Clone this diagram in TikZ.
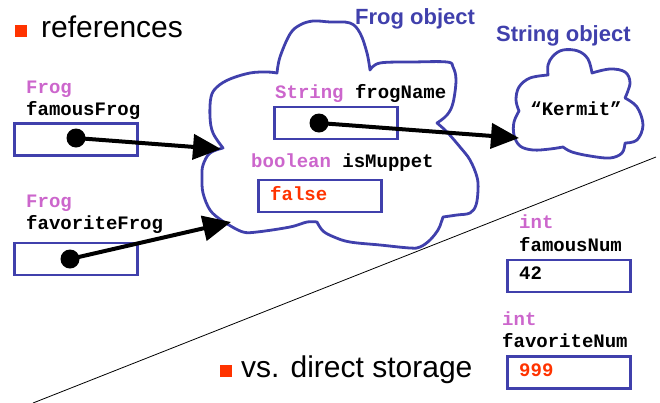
\documentclass[tikz,border=0pt]{standalone}
\usepackage{fontspec}
\setmainfont{Liberation Sans}
\newfontfamily\codefont{Liberation Mono}
\usetikzlibrary{arrows.meta}
\definecolor{objblue}{RGB}{64,64,172}
\definecolor{typemag}{RGB}{204,102,204}
\definecolor{valred}{RGB}{255,51,0}
\begin{document}
\begin{tikzpicture}[x=1pt,y=-1pt,
  varbox/.style={draw=objblue, line width=2.8pt, minimum width=123pt, minimum height=32pt, inner sep=0pt},
  cloudline/.style={draw=objblue, line width=2.8pt, line join=round},
  code/.style={inner sep=0pt, anchor=base west, font=\codefont\bfseries\fontsize{19}{22}\selectfont},
  typelbl/.style={code, text=typemag},
  vallbl/.style={code, text=valred},
  ptrdot/.style={circle, fill=black, inner sep=0pt, minimum size=19pt},
  ptr/.style={line width=4pt, -{Triangle[length=28pt,width=25pt]}},
  bulletsq/.style={fill=valred, inner sep=0pt, minimum size=12pt},
  bigtext/.style={inner sep=0pt, anchor=base west, font=\fontsize{30}{34}\selectfont},
  objtitle/.style={inner sep=0pt, anchor=base west, text=objblue, font=\bfseries\fontsize{22}{26}\selectfont}
]
\useasboundingbox (0,0) rectangle (660,402);
\begin{scope}
\clip (0,0) rectangle (660,402);
\draw[line width=0.8pt] (33,403) coordinate (diagA) -- (656,157) coordinate (diagB);
\end{scope}

% headings
\node[bulletsq] (bul1) at (21,31) {};
\node[bigtext] (refs) at (41,37) {references};
\node[bulletsq] (bul2) at (226,371) {};
\node[bigtext] (vs) at (241,377) {vs. direct storage};
\node[objtitle] (frogobj) at (355,24) {Frog object};
\node[objtitle] (strobj) at (496,41) {String object};

% Frog object cloud
\draw[cloudline]
  plot[smooth, tension=0.6] coordinates {(223,148) (213,133) (210,117) (211,97) (217,87) (230,79) (250,73) (267,72) (277,73)}
  -- plot[smooth, tension=0.6] coordinates {(277,73) (280,57) (290,34) (300,25) (313,21) (330,22) (350,23) (360,33) (367,53) (370,70)}
  -- plot[smooth, tension=0.6] coordinates {(370,70) (380,63) (413,62) (447,62) (453,67) (456,80) (453,103) (447,115) (437,123)}
  -- plot[smooth, tension=0.6] coordinates {(437,123) (447,132) (460,147) (470,160) (477,177) (478,190) (476,205) (470,213) (457,215) (443,217)}
  -- plot[smooth, tension=0.6] coordinates {(443,217) (441,223) (438,230) (430,240) (420,247) (410,248) (380,245) (350,242) (334,237) (323,231) (317,222)}
  -- plot[smooth, tension=0.6] coordinates {(317,222) (307,222) (290,227) (257,232) (243,232) (229,225)}
  -- plot[smooth, tension=0.6] coordinates {(229,225) (221,220) (210,210) (203,193) (202,177) (203,165) (210,153) (223,148)}
  -- cycle;

% String object cloud
\draw[cloudline]
  plot[smooth, tension=0.6] coordinates {(548,75) (548,65) (553,56) (563,50) (578,51) (588,59) (592,73)}
  -- plot[smooth, tension=0.6] coordinates {(592,73) (610,69) (625,72) (630,83) (625,98)}
  -- plot[smooth, tension=0.6] coordinates {(625,98) (637,107) (643,125) (637,140) (625,143)}
  -- plot[smooth, tension=0.6] coordinates {(625,143) (622,153) (610,158) (590,156) (572,152) (563,147)}
  -- plot[smooth, tension=0.6] coordinates {(563,147) (550,149) (533,150) (520,146) (514,135) (514,122) (519,111)}
  -- plot[smooth, tension=0.6] coordinates {(519,111) (516,100) (519,87) (530,78) (548,75)}
  -- cycle;
\node[code, anchor=base] (kermit) at (576,115) {“Kermit”};

% famousFrog
\node[typelbl] (t1) at (26,93) {Frog};
\node[code] (n1) at (26,115) {famousFrog};
\node[varbox] (b1) at (76,139.5) {};
% favoriteFrog
\node[typelbl] (t2) at (26,207) {Frog};
\node[code] (n2) at (26,229) {favoriteFrog};
\node[varbox] (b2) at (76,259) {};

% fields of Frog object
\node[code] (n3) at (275,98) {\textcolor{typemag}{String} frogName};
\node[varbox] (b3) at (336,123) {};
\node[code] (n4) at (251,167) {\textcolor{typemag}{boolean} isMuppet};
\node[varbox] (b4) at (320,196) {};
\node[vallbl] (v4) at (270,200) {false};

% ints
\node[typelbl] (t5) at (519,228) {int};
\node[code] (n5) at (519,251) {famousNum};
\node[varbox] (b5) at (569,276) {};
\node[code] (v5) at (519,279) {42};
\node[typelbl] (t6) at (502,325) {int};
\node[code] (n6) at (502,347) {favoriteNum};
\node[varbox] (b6) at (569,372.5) {};
\node[vallbl] (v6) at (519,376) {999};

% pointers
\node[ptrdot] (d1) at (76,138) {};
\node[ptrdot] (d2) at (70,259) {};
\node[ptrdot] (d3) at (319,123) {};
\coordinate (tip1) at (221,149);
\coordinate (tip2) at (231,222);
\coordinate (tip3) at (519,138);
\draw[ptr] (d1.center) -- (tip1);
\draw[ptr] (d2.center) -- (tip2);
\draw[ptr] (d3.center) -- (tip3);
\end{tikzpicture}
\end{document}
